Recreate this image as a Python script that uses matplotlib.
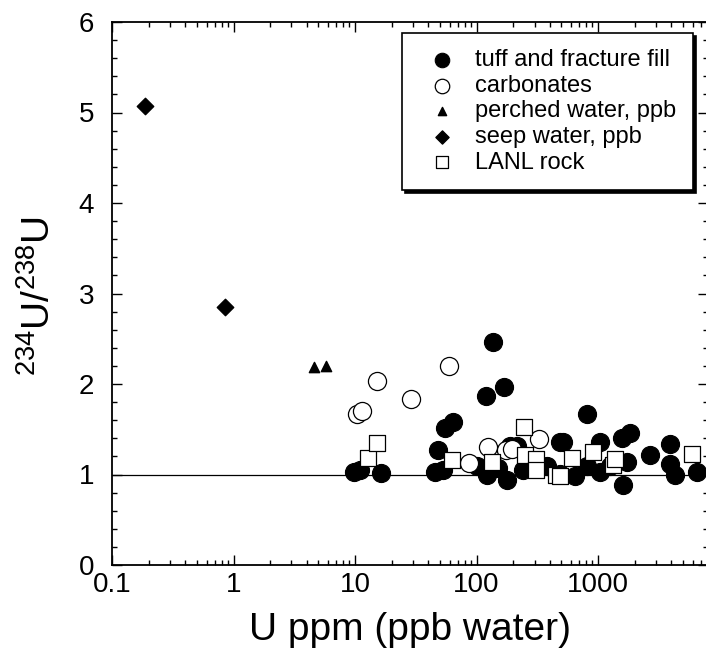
import numpy as np
import matplotlib.pyplot as plt
from matplotlib.ticker import LogLocator, MultipleLocator, FixedFormatter, FixedLocator

plt.rcParams['font.family'] = 'Liberation Sans'
plt.rcParams['mathtext.fontset'] = 'custom'
plt.rcParams['mathtext.rm'] = 'Liberation Sans'
plt.rcParams['mathtext.it'] = 'Liberation Sans'

# tuff and fracture fill (filled circles)
tuff_x = [9.8, 11.0, 16.3, 45.5, 48.5, 53, 55, 64, 100, 119, 121, 137, 149, 168, 177,
          189, 214, 241, 378, 487, 487, 518, 647, 807, 817, 1038, 1038, 1256, 1566,
          1614, 1722, 1833, 2680, 3920, 3920, 4300, 6490]
tuff_y = [1.03, 1.05, 1.02, 1.03, 1.27, 1.05, 1.51, 1.58, 1.09, 1.87, 1.00, 2.46, 1.07,
          1.97, 0.94, 1.31, 1.31, 1.05, 1.09, 1.36, 1.01, 1.36, 0.98, 1.09, 1.67, 1.36,
          1.03, 1.09, 1.40, 0.88, 1.14, 1.46, 1.22, 1.34, 1.12, 1.00, 1.03]

# carbonates (open circles)
carb_x = [10.3, 11.5, 15.2, 28.7, 59.7, 86, 125, 175, 195, 327]
carb_y = [1.67, 1.70, 2.03, 1.83, 2.20, 1.13, 1.30, 1.27, 1.28, 1.39]

# perched water, ppb
perched_x = [4.6, 5.8]
perched_y = [2.19, 2.20]

# seep water, ppb
seep_x = [0.187, 0.85]
seep_y = [5.07, 2.85]

# LANL rock (open squares)
lanl_x = [12.9, 15.1, 63, 133, 246, 250, 309, 311, 451, 487, 615, 914, 1330, 1380, 5970]
lanl_y = [1.18, 1.35, 1.16, 1.14, 1.52, 1.22, 1.17, 1.05, 0.99, 0.98, 1.18, 1.25, 1.10, 1.17, 1.23]

fig = plt.figure(figsize=(7.06, 6.53), dpi=100)
ax = fig.add_axes([112 / 706, 88 / 653, 596 / 706, 543 / 653])

ax.axhline(1.0, color='black', linewidth=0.9, zorder=1)

ax.scatter(tuff_x, tuff_y, s=170, marker='o', facecolor='black', edgecolor='black',
           linewidth=0.8, label='tuff and fracture fill', zorder=3)
ax.scatter(carb_x, carb_y, s=170, marker='o', facecolor='white', edgecolor='black',
           linewidth=0.9, label='carbonates', zorder=4)
ax.scatter(perched_x, perched_y, s=55, marker='^', facecolor='black', edgecolor='black',
           label='perched water, ppb', zorder=3)
ax.scatter(seep_x, seep_y, s=70, marker='D', facecolor='black', edgecolor='black',
           label='seep water, ppb', zorder=3)
ax.scatter(lanl_x, lanl_y, s=130, marker='s', facecolor='white', edgecolor='black',
           linewidth=0.9, label='LANL rock', zorder=5)

ax.set_xscale('log')
ax.set_xlim(0.1, 10 ** 3.905)
ax.set_ylim(0, 6)

ax.xaxis.set_major_locator(FixedLocator([0.1, 1, 10, 100, 1000]))
ax.xaxis.set_major_formatter(FixedFormatter(['0.1', '1', '10', '100', '1000']))
ax.xaxis.set_minor_locator(LogLocator(base=10, subs=np.arange(2, 10)))
ax.yaxis.set_major_locator(MultipleLocator(1))
ax.yaxis.set_minor_locator(MultipleLocator(0.2))

ax.tick_params(which='both', direction='in', top=True, right=True, width=1.0)
ax.tick_params(which='major', length=7, labelsize=20)
ax.tick_params(axis='x', which='major', pad=5)
ax.tick_params(axis='y', which='major', pad=13)
ax.tick_params(which='minor', length=3.5)
for s in ax.spines.values():
    s.set_linewidth(1.3)

ax.set_xlabel('U ppm (ppb water)', fontsize=28, labelpad=10)
ax.set_ylabel(r'$^{234}$U/$^{238}$U', fontsize=28)
ax.yaxis.set_label_coords(-0.09, 0.495)

leg = ax.legend(loc='upper right', bbox_to_anchor=(0.975, 0.98), fontsize=17,
                frameon=True, fancybox=False, shadow={'color': 'black', 'alpha': 1},
                labelspacing=0.15, handlelength=2.0, handletextpad=0.4,
                borderpad=0.7, borderaxespad=0, markerscale=0.8)
leg.get_frame().set_edgecolor('black')
leg.get_frame().set_linewidth(1.2)
leg.get_frame().set_alpha(1)

fig.savefig('out.png', dpi=100)
